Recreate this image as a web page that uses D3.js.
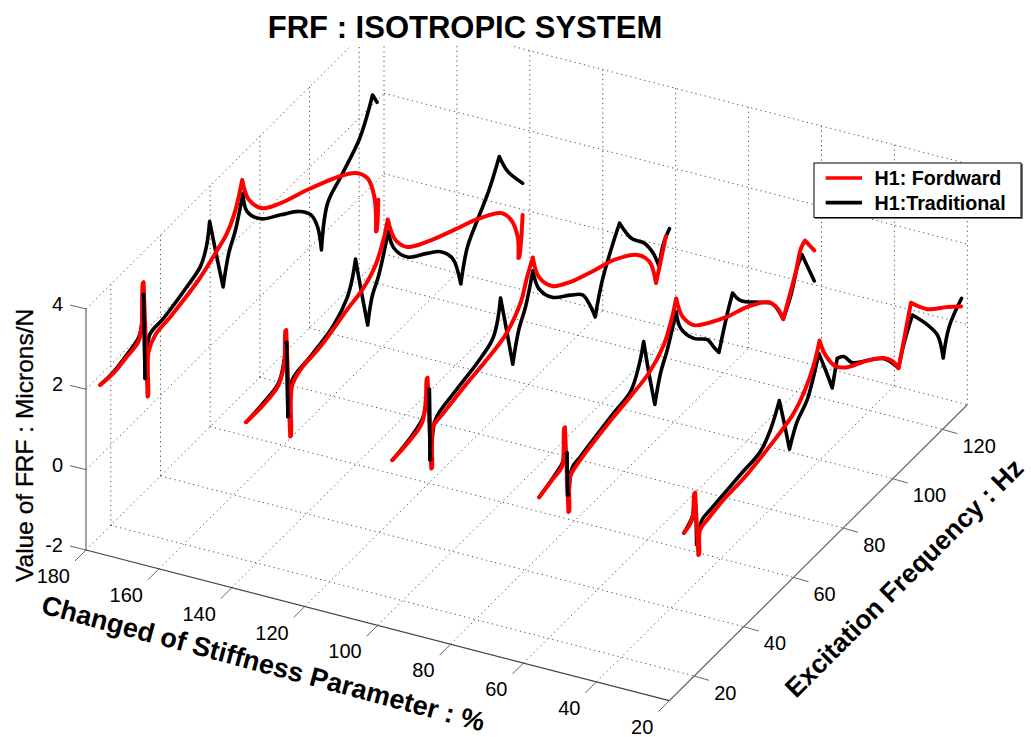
<!DOCTYPE html>
<html>
<head>
<meta charset="utf-8">
<script src="https://cdn.jsdelivr.net/npm/d3@7"></script>
<style>
  html, body { margin: 0; padding: 0; background: #fff; overflow: hidden; }
  text { font-family: "Liberation Sans", Arial, sans-serif; fill: #000; }
</style>
</head>
<body>
<div id="chart"></div>
<script>
// tick labels
const stiffnessTicks = [180, 160, 140, 120, 100, 80, 60, 40, 20];
const freqTicks = [20, 40, 60, 80, 100, 120];
const valueTicks = [-2, 0, 2, 4];

// H1: Traditional, one slice per stiffness level
const blackFreq180 = [15.7, 21, 26.4, 31.1, 32.4, 32.9, 33.2, 33.8, 34.1, 35.6, 41.2, 50.7, 56.1, 58.5, 59.8, 62.1, 65.2, 67.5, 70.2, 73.2, 74.9, 80.3, 88.4, 95.8, 100.5, 103.2, 104.8, 107.3, 112.6, 120, 122.7, 125.4, 127.2];
const blackVal180 = [1.76, 1.75, 1.85, 1.98, 2.22, 2.94, 2.94, 0.81, 0.81, 1.78, 1.85, 2.06, 2.23, 2.58, 3.12, 2.27, 1.16, 1.86, 2.27, 3.0, 2.44, 1.93, 1.53, 1.16, 0.79, 0.33, -0.35, 0.66, 0.99, 1.46, 1.79, 2.24, 1.95];
const blackFreq140 = [15.7, 22.7, 28.8, 31.1, 31.8, 32.1, 32.6, 32.9, 34.3, 41.6, 51, 56.4, 58.4, 59.8, 61.8, 64.7, 66.5, 69.2, 73, 75.3, 80.7, 88.7, 94.1, 98.8, 102.2, 104.9, 108.9, 113.6, 117.7, 121.1, 127.1];
const blackVal140 = [1.77, 1.82, 1.94, 2.37, 2.75, 2.75, 0.87, 0.87, 1.68, 1.81, 2.02, 2.36, 2.69, 3.12, 2.31, 1.18, 1.78, 2.15, 3.0, 2.44, 1.89, 1.49, 1.2, 0.75, -0.1, 0.66, 1.08, 1.54, 2.12, 1.54, 0.88];
const blackFreq100 = [15.9, 23.1, 27.8, 29.6, 30.5, 30.8, 31.1, 31.4, 33.2, 40.6, 50, 56.1, 58.1, 59.5, 61.9, 64.4, 66.8, 69.6, 72.5, 74.9, 80.3, 87.7, 92.5, 95.1, 97.6, 100.5, 105.2, 107.4, 112.3, 117.3, 120.9, 123.3, 125.1, 127.5];
const blackVal100 = [1.75, 1.86, 2.02, 2.28, 2.6, 2.6, 0.82, 0.82, 1.69, 1.9, 2.07, 2.27, 2.57, 3.11, 2.17, 1.16, 1.86, 2.28, 2.99, 2.4, 1.85, 1.45, 1.16, 0.79, 0.3, 1.04, 1.75, 2.03, 1.35, 0.93, 0.46, -0.02, 0.44, 0.66];
const blackFreq60 = [16.3, 22.1, 25.5, 27.2, 27.5, 27.8, 28.1, 29.5, 32.9, 46.3, 53.1, 56.4, 58.4, 60.5, 62.9, 65.2, 67.9, 71.5, 73.3, 78.6, 84.1, 86.7, 88.7, 92.1, 94.2, 97.5, 105.6, 110.3, 114.6, 117.7, 120.5, 122.2, 127.1];
const blackVal60 = [1.74, 1.89, 2.01, 2.16, 2.16, 1.08, 1.08, 1.65, 1.73, 1.99, 2.11, 2.53, 3.03, 2.12, 1.19, 1.83, 2.24, 2.97, 2.45, 1.87, 1.5, 1.15, 0.9, 1.66, 2.04, 1.65, 1.11, 0.78, 0.14, 0.55, 1.12, 1.27, 0.32];
const blackFreq20 = [15.9, 19.1, 20.4, 20.7, 21, 21.3, 23.1, 26.4, 38.6, 46.6, 50.7, 54.3, 56.3, 58.4, 61.5, 65.5, 70.2, 72.9, 75.6, 77.6, 80.3, 83.7, 89.8, 96.5, 102.3, 104.5, 107.9, 114, 118, 120.3, 122.7, 127.7];
const blackVal20 = [1.81, 1.99, 2.21, 2.21, 1.21, 1.21, 1.69, 1.74, 1.87, 1.95, 2.24, 2.75, 2.06, 1.29, 1.79, 2.08, 2.95, 2.37, 1.76, 2.37, 2.25, 1.89, 1.57, 1.2, 0.61, 1.09, 1.59, 0.97, 0.47, -0.24, 0.39, 0.79];

// H1: Fordward, one slice per stiffness level
const redFreq180 = [15.7, 21, 26.4, 31.1, 32.5, 32.9, 33.2, 34.8, 35, 35.2, 37.9, 43.9, 55.4, 62.1, 66.8, 70.2, 72.9, 75.6, 81, 88.4, 99.2, 112.6, 118.7, 123.4, 126.1, 126.8, 127, 127.7];
const redVal180 = [1.76, 1.72, 1.8, 1.89, 2.27, 3.24, 3.24, 0.3, 0.3, 1.39, 1.64, 1.72, 1.94, 2.19, 2.4, 2.77, 3.35, 2.69, 2.15, 1.82, 1.49, 1.01, 0.71, 0.29, -0.33, -1.24, -1.24, -0.51];
const redFreq140 = [15.7, 22.7, 28.8, 31.1, 31.6, 31.9, 33.5, 33.8, 34.2, 37.6, 45.6, 56.4, 62.5, 67.9, 71.2, 72.8, 75.9, 80.7, 88.7, 99.5, 108.9, 118.4, 122.4, 125.1, 125.4, 125.7, 127.1];
const redVal140 = [1.77, 1.77, 1.89, 2.29, 3.07, 3.07, 0.32, 0.32, 1.52, 1.73, 1.81, 2.07, 2.19, 2.48, 2.94, 3.31, 2.61, 2.14, 1.78, 1.41, 1.1, 0.67, 0.26, -0.33, -0.88, -0.88, 0.09];
const redFreq100 = [15.9, 23.1, 27.8, 29.4, 29.8, 30.1, 31.6, 31.9, 32.3, 35.9, 46, 52.7, 61.5, 67.5, 70.2, 72.5, 74.9, 80.3, 87.7, 97.2, 105.2, 114.7, 119.4, 122.1, 126.1];
const redVal100 = [1.75, 1.81, 1.94, 2.42, 2.93, 2.93, 0.58, 0.58, 1.58, 1.65, 1.82, 1.9, 2.07, 2.49, 2.98, 3.32, 2.69, 2.13, 1.78, 1.48, 1.25, 0.79, 0.34, -0.36, 0.56];
const redFreq60 = [16.3, 22.1, 25.5, 26.4, 26.7, 28.1, 28.4, 28.8, 32.9, 46.3, 53.1, 60.5, 66.5, 69.9, 71.5, 74, 78.6, 84.1, 92.1, 100.2, 108.9, 112.3, 114.6, 119.7, 121.8, 123.4, 127.1];
const redVal60 = [1.74, 1.86, 1.94, 2.84, 2.84, 0.65, 0.65, 1.48, 1.65, 1.9, 1.99, 2.12, 2.45, 2.94, 3.3, 2.7, 2.2, 1.91, 1.58, 1.33, 0.91, 0.55, 0.14, 1.01, 1.47, 1.55, 1.08];
const redFreq20 = [15.9, 19.1, 20.1, 20.4, 21.7, 22, 22.4, 25.8, 31.8, 39.9, 46.6, 53.4, 60.1, 64.1, 68.2, 70.5, 72.9, 77, 81.7, 89.8, 96.5, 99.9, 102.3, 104.5, 107.3, 114, 122.1, 127.5];
const redVal20 = [1.82, 1.94, 2.54, 2.54, 0.91, 0.91, 1.49, 1.57, 1.66, 1.7, 1.79, 1.91, 2.08, 2.33, 2.79, 3.25, 2.74, 2.21, 1.9, 1.57, 1.22, 0.93, 0.61, 1.18, 1.93, 1.36, 0.92, 0.6];

const slices = [
    { stiffness: 180, black: [blackFreq180, blackVal180], red: [redFreq180, redVal180] },
    { stiffness: 140, black: [blackFreq140, blackVal140], red: [redFreq140, redVal140] },
    { stiffness: 100, black: [blackFreq100, blackVal100], red: [redFreq100, redVal100] },
    { stiffness: 60, black: [blackFreq60, blackVal60], red: [redFreq60, redVal60] },
    { stiffness: 20, black: [blackFreq20, blackVal20], red: [redFreq20, redVal20] }
];

const width = 1031, height = 737;

const svg = d3.select("#chart").append("svg")
    .attr("width", width)
    .attr("height", height)
    .style("display", "block")
    .style("background", "#fff");

// oblique view of the box: every axis adds its own screen offset
const sx = d3.scaleLinear().domain([180, 20]).range([0, 583.3]);
const sy = d3.scaleLinear().domain([180, 20]).range([0, 150.7]);
const fx = d3.scaleLinear().domain([10, 130]).range([86, 384]);
const fy = d3.scaleLinear().domain([10, 130]).range([550, 254]);
const zy = d3.scaleLinear().domain([-2, 4]).range([0, -241]);

const project = (s, f, z) => [sx(s) + fx(f), sy(s) + fy(f) + zy(z)];

const segment = (a, b, stroke, sw, dash) => {
    svg.append("line")
        .attr("x1", a[0]).attr("y1", a[1])
        .attr("x2", b[0]).attr("y2", b[1])
        .attr("stroke", stroke)
        .attr("stroke-width", sw)
        .attr("stroke-dasharray", dash || null);
};

// grid on the floor and the two back walls
const gridColour = "#4a4a4a", gridDash = "1.2 3.6";
const [sMax, sMin] = sx.domain();
const [fMin, fMax] = fx.domain();
const zMin = -2, zMax = 4;

stiffnessTicks.forEach(s => {
    if (s !== sMax && s !== sMin) segment(project(s, fMin, zMin), project(s, fMax, zMin), gridColour, 1, gridDash);
    segment(project(s, fMax, zMin), project(s, fMax, zMax), gridColour, 1, gridDash);
});
freqTicks.forEach(f => {
    segment(project(sMax, f, zMin), project(sMin, f, zMin), gridColour, 1, gridDash);
    segment(project(sMax, f, zMin), project(sMax, f, zMax), gridColour, 1, gridDash);
});
valueTicks.forEach(z => {
    segment(project(sMax, fMin, z), project(sMax, fMax, z), gridColour, 1, gridDash);
    segment(project(sMax, fMax, z), project(sMin, fMax, z), gridColour, 1, gridDash);
});

// the title's white band hides the top of the box
svg.append("rect").attr("x", 0).attr("y", 0).attr("width", width).attr("height", 46).attr("fill", "#fff");

// axes
const axisColour = "#666";
segment(project(sMax, fMin, zMin), project(sMax, fMin, zMax), axisColour, 1.2);
segment(project(sMax, fMin, zMin), project(sMin, fMin, zMin), "#444", 1.2);
segment(project(sMin, fMin, zMin), project(sMin, fMax, zMin), axisColour, 1.2);

const tickFont = 20;

stiffnessTicks.forEach(s => {
    const p = project(s, fMin, zMin);
    segment(p, [p[0] - 11, p[1] + 11], axisColour, 1);
    svg.append("text")
        .attr("x", p[0] - 16)
        .attr("y", p[1] + 33)
        .attr("text-anchor", "end")
        .attr("font-size", tickFont)
        .text(s);
});

freqTicks.forEach(f => {
    const p = project(sMin, f, zMin);
    segment(p, [p[0] + 15, p[1] + 4.3], axisColour, 1);
    svg.append("text")
        .attr("x", p[0] + 20)
        .attr("y", p[1] + 23.5)
        .attr("font-size", tickFont)
        .text(f);
});

valueTicks.forEach(z => {
    const p = project(sMax, fMin, z);
    segment(p, [p[0] - 16, p[1] - 4], axisColour, 1);
    svg.append("text")
        .attr("x", p[0] - 23)
        .attr("y", p[1] + 2)
        .attr("text-anchor", "end")
        .attr("font-size", tickFont)
        .text(z);
});

// traces: smooth between points, but keep the sharp peaks sharp
const traceLine = s => d3.line()
    .x(d => project(s, d[0], d[1])[0])
    .y(d => project(s, d[0], d[1])[1])
    .curve(d3.curveCatmullRom.alpha(0.5));

const splitAtCorners = (s, points) => {
    const px = points.map(d => project(s, d[0], d[1]));
    const pieces = [];
    let start = 0;
    for (let i = 1; i < points.length - 1; i++) {
        const a = Math.atan2(px[i][1] - px[i - 1][1], px[i][0] - px[i - 1][0]);
        const b = Math.atan2(px[i + 1][1] - px[i][1], px[i + 1][0] - px[i][0]);
        let turn = Math.abs(a - b);
        if (turn > Math.PI) turn = 2 * Math.PI - turn;
        if (turn > Math.PI / 3.2) {
            pieces.push(points.slice(start, i + 1));
            start = i;
        }
    }
    pieces.push(points.slice(start));
    return pieces;
};

const drawTrace = (s, points, colour, sw) => {
    const line = traceLine(s);
    svg.append("path")
        .attr("fill", "none")
        .attr("stroke", colour)
        .attr("stroke-width", sw)
        .attr("stroke-linecap", "round")
        .attr("d", splitAtCorners(s, points).map(p => line(p)).join(""));
};

slices.forEach(d => {
    const blackPts = d3.zip(...d.black);
    drawTrace(d.stiffness, blackPts, "#000", 3.6);
    drawTrace(d.stiffness, d3.zip(...d.red), "#f00", 4);
    // the narrow first spike of the black trace sits over the red one
    const drop = blackPts.findIndex((p, i) => i < blackPts.length - 1 && p[1] - blackPts[i + 1][1] > 1);
    drawTrace(d.stiffness, blackPts.slice(drop - 1, drop + 3), "#000", 3.6);
});

// titles
svg.append("text")
    .attr("x", 465)
    .attr("y", 38)
    .attr("text-anchor", "middle")
    .attr("font-size", 31)
    .attr("font-weight", "bold")
    .text("FRF : ISOTROPIC SYSTEM");

svg.append("text")
    .attr("transform", "translate(33,582) rotate(-90)")
    .attr("font-size", 24.5)
    .attr("stroke", "#000")
    .attr("stroke-width", 0.3)
    .text("Value of FRF : Microns/N");

svg.append("text")
    .attr("transform", "translate(40,613) rotate(15)")
    .attr("font-size", 27)
    .attr("font-weight", "bold")
    .text("Changed of Stiffness Parameter : %");

svg.append("text")
    .attr("transform", "translate(796,699) rotate(-45)")
    .attr("font-size", 26.5)
    .attr("font-weight", "bold")
    .text("Excitation Frequency : Hz");

// legend
const legend = svg.append("g").attr("transform", "translate(814,163)");
legend.append("rect").attr("x", 1).attr("y", 1).attr("width", 208).attr("height", 55).attr("fill", "#777");
legend.append("rect").attr("width", 207).attr("height", 54.5).attr("fill", "#fff").attr("stroke", "#000").attr("stroke-width", 1);

const legendItems = [["H1: Fordward", "#f00"], ["H1:Traditional", "#000"]];
legendItems.forEach(([label, colour], i) => {
    const y = 15 + i * 24.6;
    legend.append("line")
        .attr("x1", 11.7).attr("x2", 48)
        .attr("y1", y).attr("y2", y)
        .attr("stroke", colour)
        .attr("stroke-width", 3.6);
    legend.append("text")
        .attr("x", 60.5)
        .attr("y", y + 7)
        .attr("font-size", 19.7)
        .attr("font-weight", "bold")
        .text(label);
});
</script>
</body>
</html>
